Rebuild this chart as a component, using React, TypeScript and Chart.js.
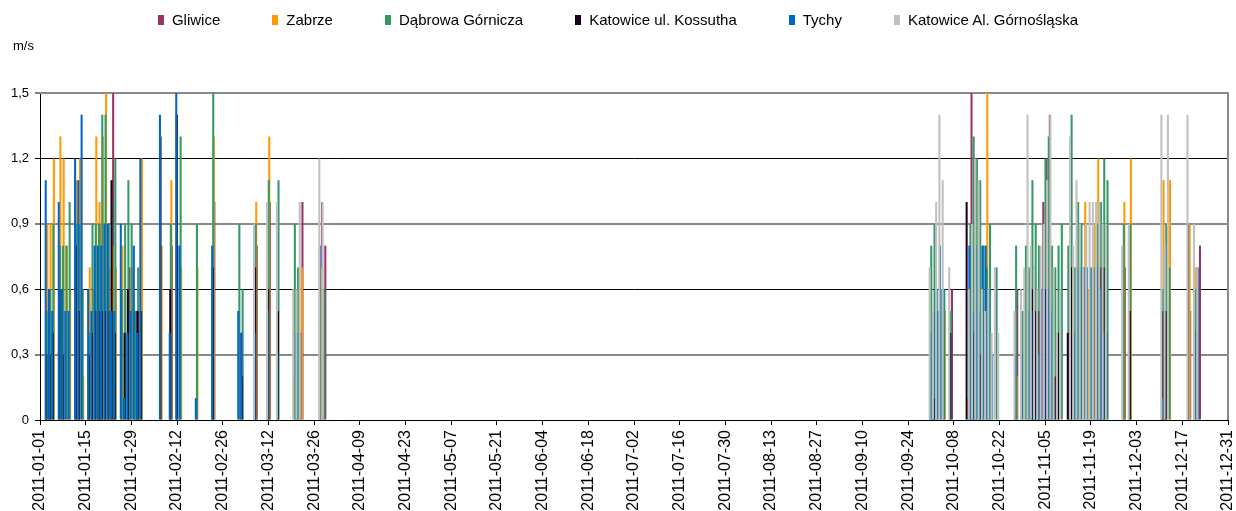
import { useEffect, useRef } from 'react';
import { Chart, registerables } from 'chart.js';

Chart.register(...registerables);

const n = null;

const seriesNames = ['Gliwice', 'Zabrze', 'Dąbrowa Górnicza', 'Katowice ul. Kossutha', 'Tychy', 'Katowice Al. Górnośląska'];
const seriesColors = ['#993366', '#FF9900', '#339966', '#1A001A', '#0066CC', '#C0C0C0'];

const datesQ1 = ['2011-01-03', '2011-01-04', '2011-01-05', '2011-01-07', '2011-01-08', '2011-01-09', '2011-01-10', '2011-01-12', '2011-01-13', '2011-01-14',
  '2011-01-16', '2011-01-17', '2011-01-18', '2011-01-19', '2011-01-20', '2011-01-21', '2011-01-22', '2011-01-23', '2011-01-24', '2011-01-26',
  '2011-01-27', '2011-01-28', '2011-01-29', '2011-01-30', '2011-01-31', '2011-02-01', '2011-02-07', '2011-02-10', '2011-02-12', '2011-02-13',
  '2011-02-18', '2011-02-23', '2011-03-03', '2011-03-04', '2011-03-08', '2011-03-12', '2011-03-15', '2011-03-20', '2011-03-21', '2011-03-22',
  '2011-03-28', '2011-03-29'];

const gliwiceQ1 = [n, n, n, n, n, n, n, n, n, n, n, n, n, 0.9, n, n, n, 1.5, n, n, n, 0.7, n, 0.5, n, n, n, 0.8, n, n, n, 1.0, 0.4, n, 0.8, 1.0, n, 0.4, n, 1.0, 1.0, 0.8];
const zabrzeQ1 = [0.9, 0.9, 1.2, 1.3, 1.2, 0.8, 0.6, 1.1, 1.2, 0.2, 0.7, 0.6, 1.3, 1.0, 1.3, 1.5, 0.7, 0.8, 0.7, 0.8, n, 0.4, 0.7, n, 0.5, 1.2, 0.8, 1.1, n, 0.7, 0.7, 1.3, n, n, 1.0, 1.3, n, 0.2, 0.4, 0.7, 0.7, n];
const dabrowaQ1 = [0.5, 0.6, 0.9, 0.8, 0.8, 0.8, 1.0, 0.9, 0.9, 0.6, 0.4, 0.9, 0.9, 0.9, 1.4, 1.4, 0.9, 1.0, 1.2, 0.6, 0.9, 1.1, 0.9, 0.5, 0.7, 0.5, n, 0.9, 0.8, 1.3, 0.9, 1.5, 0.9, 0.6, 0.9, 1.1, 1.1, 0.9, 0.7, n, n, 0.6];
const kossuthaQ1 = [0.3, 0.3, 0.4, 0.6, 0.3, n, n, 0.8, 0.5, n, 0.3, 0.4, 0.5, 0.5, 0.5, 0.5, 0.5, 1.1, 0.4, n, 0.4, 0.6, n, n, 0.5, 0.5, 1.3, 0.6, 1.4, n, n, 0.7, n, 0.2, 0.7, 0.6, 0.5, n, n, n, n, n];
const tychyQ1 = [1.1, 0.6, 0.5, 1.0, 0.6, 0.5, 0.5, 1.2, 1.1, 1.4, 0.6, 0.5, 0.8, 0.8, 0.8, 0.9, 0.9, 0.5, 0.5, 0.9, 0.1, 0.4, 0.5, 0.8, 0.4, 1.2, 1.4, 0.4, 1.5, 0.8, 0.1, 0.8, 0.5, 0.4, 0.4, 0.5, 0.3, n, 0.4, 0.4, 0.8, n];
const gornoslaskaQ1 = [n, n, n, n, n, n, n, n, n, n, n, n, n, n, n, n, n, n, n, n, n, n, n, n, n, n, n, n, n, n, n, n, n, n, 0.9, 1.0, 1.0, 0.6, 0.6, 1.0, 1.2, 1.0];

const datesQ4 = ['2011-10-01', '2011-10-02', '2011-10-03', '2011-10-04', '2011-10-05', '2011-10-07', '2011-10-12', '2011-10-13', '2011-10-14', '2011-10-15',
  '2011-10-16', '2011-10-17', '2011-10-18', '2011-10-19', '2011-10-20', '2011-10-21', '2011-10-22', '2011-10-27', '2011-10-29', '2011-10-30',
  '2011-10-31', '2011-11-01', '2011-11-02', '2011-11-03', '2011-11-04', '2011-11-05', '2011-11-06', '2011-11-07', '2011-11-08', '2011-11-09',
  '2011-11-10', '2011-11-12', '2011-11-13', '2011-11-14', '2011-11-15', '2011-11-16', '2011-11-17', '2011-11-18', '2011-11-19', '2011-11-20',
  '2011-11-21', '2011-11-22', '2011-11-23', '2011-11-24', '2011-11-29', '2011-12-01', '2011-12-11', '2011-12-12', '2011-12-13', '2011-12-19',
  '2011-12-21', '2011-12-22'];

const gliwiceQ4 = [0.5, n, n, n, n, 0.6, n, 1.5, n, n, n, n, n, n, n, n, n, 0.6, n, n, n, 0.7, n, n, 1.0, 1.2, 1.4, n, n, n, n, 0.4, n, n, n, n, n, n, n, n, n, n, n, n, 0.7, n, 0.5, n, n, 0.5, n, 0.8];
const zabrzeQ4 = [0.4, n, n, n, 0.5, n, 0.1, n, n, n, n, n, 1.5, n, n, n, n, 0.2, n, 0.6, n, n, n, n, n, n, n, n, n, n, n, 0.4, n, 0.7, n, n, 1.0, 0.6, n, 0.9, 1.2, n, 0.8, n, 1.0, 1.2, 1.1, n, 1.1, 0.9, 0.7, n];
const dabrowaQ4 = [0.8, 0.9, 0.5, 0.6, 0.6, 0.5, n, 0.9, 1.3, 1.2, 1.1, 0.8, 0.7, 0.9, n, 0.7, n, 0.8, 0.5, 0.8, 0.7, 1.1, 0.9, 0.8, n, 1.2, 1.3, 0.8, 0.7, 0.8, 0.9, 0.8, 1.4, 0.7, 1.0, 0.9, n, n, 0.7, n, 0.9, 1.0, 1.2, 1.1, 0.9, 0.9, 0.6, 0.9, 0.7, n, 0.6, n];
const kossuthaQ4 = [n, 0.1, n, n, n, 0.4, 1.0, n, 0.4, n, 0.3, n, n, n, n, n, n, n, n, n, n, 0.6, 0.5, 0.5, n, 0.6, n, n, 0.2, 0.4, n, 0.4, 0.7, n, n, n, n, n, n, n, n, 0.7, 0.7, n, n, 0.5, 0.5, 0.5, n, n, n, n];
const tychyQ4 = [0.4, 0.5, 0.6, 0.8, 0.6, n, n, 0.8, 0.5, 0.8, 0.5, 0.8, 0.8, 0.6, 0.3, n, n, 0.3, 0.3, n, 0.5, 0.5, n, 0.3, 0.6, 0.6, 0.6, 0.5, n, n, n, n, n, 0.4, 0.7, 0.7, 0.7, 0.7, 0.7, 0.7, 0.7, 0.6, 0.4, 0.4, n, n, 0.1, n, n, 0.9, 0.4, 0.7];
const gornoslaskaQ4 = [0.7, 0.5, 1.0, 1.4, 1.1, 0.7, n, 0.6, 0.9, 1.2, 1.1, 0.6, 0.5, 0.6, 0.4, 0.7, 0.4, 0.5, 0.6, 0.7, 1.4, 0.8, 0.7, 0.6, 0.8, 0.9, 1.1, 1.4, 0.7, 0.4, 0.6, n, 1.3, 0.8, 1.1, 0.9, 0.7, 0.9, 1.0, 1.0, 1.0, 1.0, 0.9, 0.9, 0.8, 0.9, 1.4, 0.8, 1.4, 1.4, 0.9, 0.7];

const yTickValues = [0, 0.3, 0.6, 0.9, 1.2, 1.5];
const xLabelEvery = 14;
const FONT = "'Liberation Sans', Arial, sans-serif";

const allDates: string[] = [];
for (let d = new Date(Date.UTC(2011, 0, 1)); d.getUTCFullYear() === 2011; d.setUTCDate(d.getUTCDate() + 1)) {
  allDates.push(d.toISOString().slice(0, 10));
}

function fullSeries(q1: (number | null)[], q4: (number | null)[]) {
  return allDates.map((dt) => {
    const a = datesQ1.indexOf(dt);
    if (a >= 0) return q1[a];
    const b = datesQ4.indexOf(dt);
    if (b >= 0) return q4[b];
    return null;
  });
}

const seriesData = [
  fullSeries(gliwiceQ1, gliwiceQ4),
  fullSeries(zabrzeQ1, zabrzeQ4),
  fullSeries(dabrowaQ1, dabrowaQ4),
  fullSeries(kossuthaQ1, kossuthaQ4),
  fullSeries(tychyQ1, tychyQ4),
  fullSeries(gornoslaskaQ1, gornoslaskaQ4),
];

const frameBorder = {
  id: 'frameBorder',
  beforeDatasetsDraw(chart: any) {
    const { ctx, chartArea } = chart;
    ctx.save();
    ctx.strokeStyle = '#8a8a8a';
    ctx.lineWidth = 2;
    ctx.beginPath();
    ctx.moveTo(chartArea.left, chartArea.top);
    ctx.lineTo(chartArea.right, chartArea.top);
    ctx.lineTo(chartArea.right, chartArea.bottom);
    ctx.stroke();
    ctx.restore();
  },
};

export default function App() {
  const ref = useRef<HTMLCanvasElement | null>(null);

  useEffect(() => {
    document.body.style.margin = '0';
    document.body.style.overflow = 'hidden';
    const canvas = ref.current;
    if (!canvas) return;
    const chart = new Chart(canvas, {
      type: 'bar',
      data: {
        labels: allDates,
        datasets: seriesNames.map((name, i) => ({
          label: name,
          data: seriesData[i],
          backgroundColor: seriesColors[i],
          borderWidth: 0,
          order: seriesNames.length - 1 - i,
          barPercentage: 3.8,
          categoryPercentage: 1,
        })),
      },
      options: {
        animation: false,
        responsive: false,
        maintainAspectRatio: false,
        devicePixelRatio: 1,
        layout: { padding: { top: 93, right: 8, left: 0, bottom: 0 } },
        plugins: { legend: { display: false }, tooltip: { enabled: false } },
        scales: {
          x: {
            type: 'category',
            offset: false,
            grid: { offset: false, drawOnChartArea: false, drawTicks: true, tickLength: 5, tickColor: '#000', color: '#000' },
            border: { color: '#000', width: 1 },
            ticks: {
              autoSkip: false,
              maxRotation: 90,
              minRotation: 90,
              padding: 5,
              color: '#000',
              font: { family: FONT, size: 16 },
              callback: (_v: any, i: number) => (i % xLabelEvery === 0 ? allDates[i] : null),
            },
            afterFit: (s: any) => { s.height = 91; s.paddingLeft = 0; s.paddingRight = 0; },
          },
          y: {
            min: 0,
            max: 1.5,
            afterBuildTicks: (s: any) => { s.ticks = yTickValues.map((v) => ({ value: v })); },
            grid: {
              color: (c: any) => {
                const v = Math.round((c.tick?.value ?? 0) * 10);
                return v === 12 || v === 6 || v === 0 ? '#000' : '#8a8a8a';
              },
              lineWidth: (c: any) => {
                const v = Math.round((c.tick?.value ?? 0) * 10);
                return v === 12 || v === 6 || v === 0 ? 1 : 2;
              },
              tickLength: 5,
              tickColor: '#000',
              tickWidth: 1,
            },
            border: { color: '#000', width: 1 },
            ticks: {
              color: '#000',
              padding: 6,
              font: { family: FONT, size: 13 },
              callback: (v: any) => (Number(v) === 0 ? '0' : Number(v).toFixed(1).replace('.', ',')),
            },
            afterFit: (s: any) => { s.width = 40; },
          },
        },
      },
      plugins: [frameBorder],
    } as any);
    return () => chart.destroy();
  }, []);

  return (
    <div style={{ position: 'relative', width: 1236, height: 511, overflow: 'hidden', background: '#fff', fontFamily: FONT }}>
      <canvas ref={ref} width={1236} height={511} style={{ position: 'absolute', left: 0, top: 0 }} />
      <div style={{ position: 'absolute', left: 0, top: 11, width: 1236, display: 'flex', justifyContent: 'center', gap: 52, fontSize: 15, lineHeight: '18px', color: '#000' }}>
        {seriesNames.map((name, i) => (
          <div key={name} style={{ display: 'flex', alignItems: 'center' }}>
            <span style={{ display: 'inline-block', width: 6, height: 10, background: seriesColors[i], border: i === 3 ? '1px solid #000' : 'none', boxSizing: 'border-box', marginRight: 8 }} />
            <span>{name}</span>
          </div>
        ))}
      </div>
      <div style={{ position: 'absolute', left: 13, top: 38, fontSize: 13, color: '#000' }}>m/s</div>
    </div>
  );
}
